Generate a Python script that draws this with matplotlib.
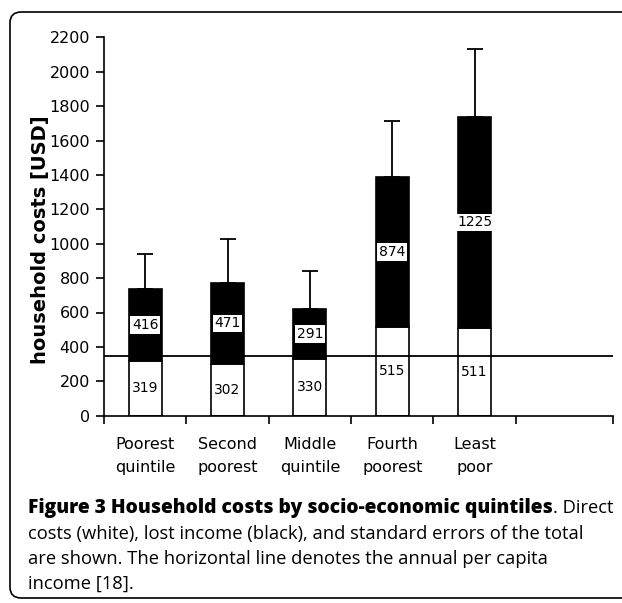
import matplotlib
matplotlib.use("Agg")
import matplotlib.pyplot as plt
from matplotlib.patches import FancyBboxPatch
import numpy as np

categories = ["Poorest\nquintile", "Second\npoorest", "Middle\nquintile", "Fourth\npoorest", "Least\npoor"]
direct_costs = [319, 302, 330, 515, 511]
lost_income = [416, 471, 291, 874, 1225]
std_errors = [207, 253, 219, 323, 394]
per_capita_income = 345
y_ticks = [0, 200, 400, 600, 800, 1000, 1200, 1400, 1600, 1800, 2000, 2200]

W, H = 622, 603
fig = plt.figure(figsize=(W / 100, H / 100), dpi=100)

# border
border = FancyBboxPatch((10 / W, 1 - 598 / H), 640 / W, (598 - 12) / H,
                        boxstyle="round,pad=0,rounding_size=0.018",
                        transform=fig.transFigure, fill=False, edgecolor="black",
                        linewidth=1.2, clip_on=False)
fig.patches.append(border)

ax = fig.add_axes([104 / W, 1 - 415.7 / H, (613 - 104) / W, (415.7 - 37.3) / H])
x = np.arange(len(categories))
ax.bar(x, direct_costs, width=0.4, color="white", edgecolor="black", linewidth=1.2, zorder=2)
ax.bar(x, lost_income, bottom=direct_costs, width=0.4, color="black", edgecolor="black",
       linewidth=1.2, yerr=[np.zeros(len(x)), std_errors],
       error_kw=dict(ecolor="black", elinewidth=1.3, capsize=5.5, capthick=1.3), zorder=2)
ax.axhline(per_capita_income, color="black", linewidth=1.3, zorder=3)

for i in range(len(x)):
    ax.text(x[i], direct_costs[i] / 2, str(direct_costs[i]), ha="center", va="center",
            fontsize=10, color="black", zorder=4)
    ax.text(x[i], direct_costs[i] + lost_income[i] / 2, str(lost_income[i]), ha="center",
            va="center", fontsize=10, color="black", zorder=4,
            bbox=dict(boxstyle="square,pad=0.12", facecolor="white", edgecolor="none"))

ax.set_xlim(-0.5, 5.68)
ax.set_ylim(0, 2200)
ax.set_yticks(y_ticks)
ax.set_yticklabels([str(v) for v in y_ticks], fontsize=11.5)
ax.set_xticks([-0.5, 0.5, 1.5, 2.5, 3.5, 4.5, 5.68])
ax.set_xticklabels([])
ax.set_xticks(x, minor=True)
ax.set_xticklabels(categories, minor=True, fontsize=11.5, linespacing=1.7)
ax.tick_params(axis="x", which="minor", length=0, pad=15)
ax.tick_params(axis="x", which="major", length=6, width=1.2, direction="out")
ax.tick_params(axis="y", length=6, width=1.2, direction="out", pad=4)
for s in ["top", "right"]:
    ax.spines[s].set_visible(False)
ax.spines["left"].set_linewidth(1.2)
ax.spines["bottom"].set_linewidth(1.2)
ax.set_ylabel("household costs [USD]", fontsize=14, fontweight="bold")
ax.yaxis.set_label_coords((41 - 104) / 509, (415.7 - 240) / 378.4)
ax.yaxis.label.set_va("center")

# caption
cap_font = "Open Sans"
fs = 13.25
fig.canvas.draw()
r = fig.canvas.get_renderer()
t1 = fig.text(28 / W, 1 - 508 / H, "Figure 3 Household costs by socio-economic quintiles",
              fontsize=13.9, fontweight=800, family=cap_font, va="center", ha="left")
bb = t1.get_window_extent(renderer=r)
fig.text(bb.x1 / W, 1 - 508 / H, ". Direct", fontsize=fs, family=cap_font, va="center", ha="left")
lines = ["costs (white), lost income (black), and standard errors of the total",
         "are shown. The horizontal line denotes the annual per capita",
         "income [18]."]
for k, ln in enumerate(lines):
    fig.text(28 / W, 1 - (534 + 25 * k) / H, ln, fontsize=fs, family=cap_font, va="center", ha="left")

fig.savefig("out.png", dpi=100)
